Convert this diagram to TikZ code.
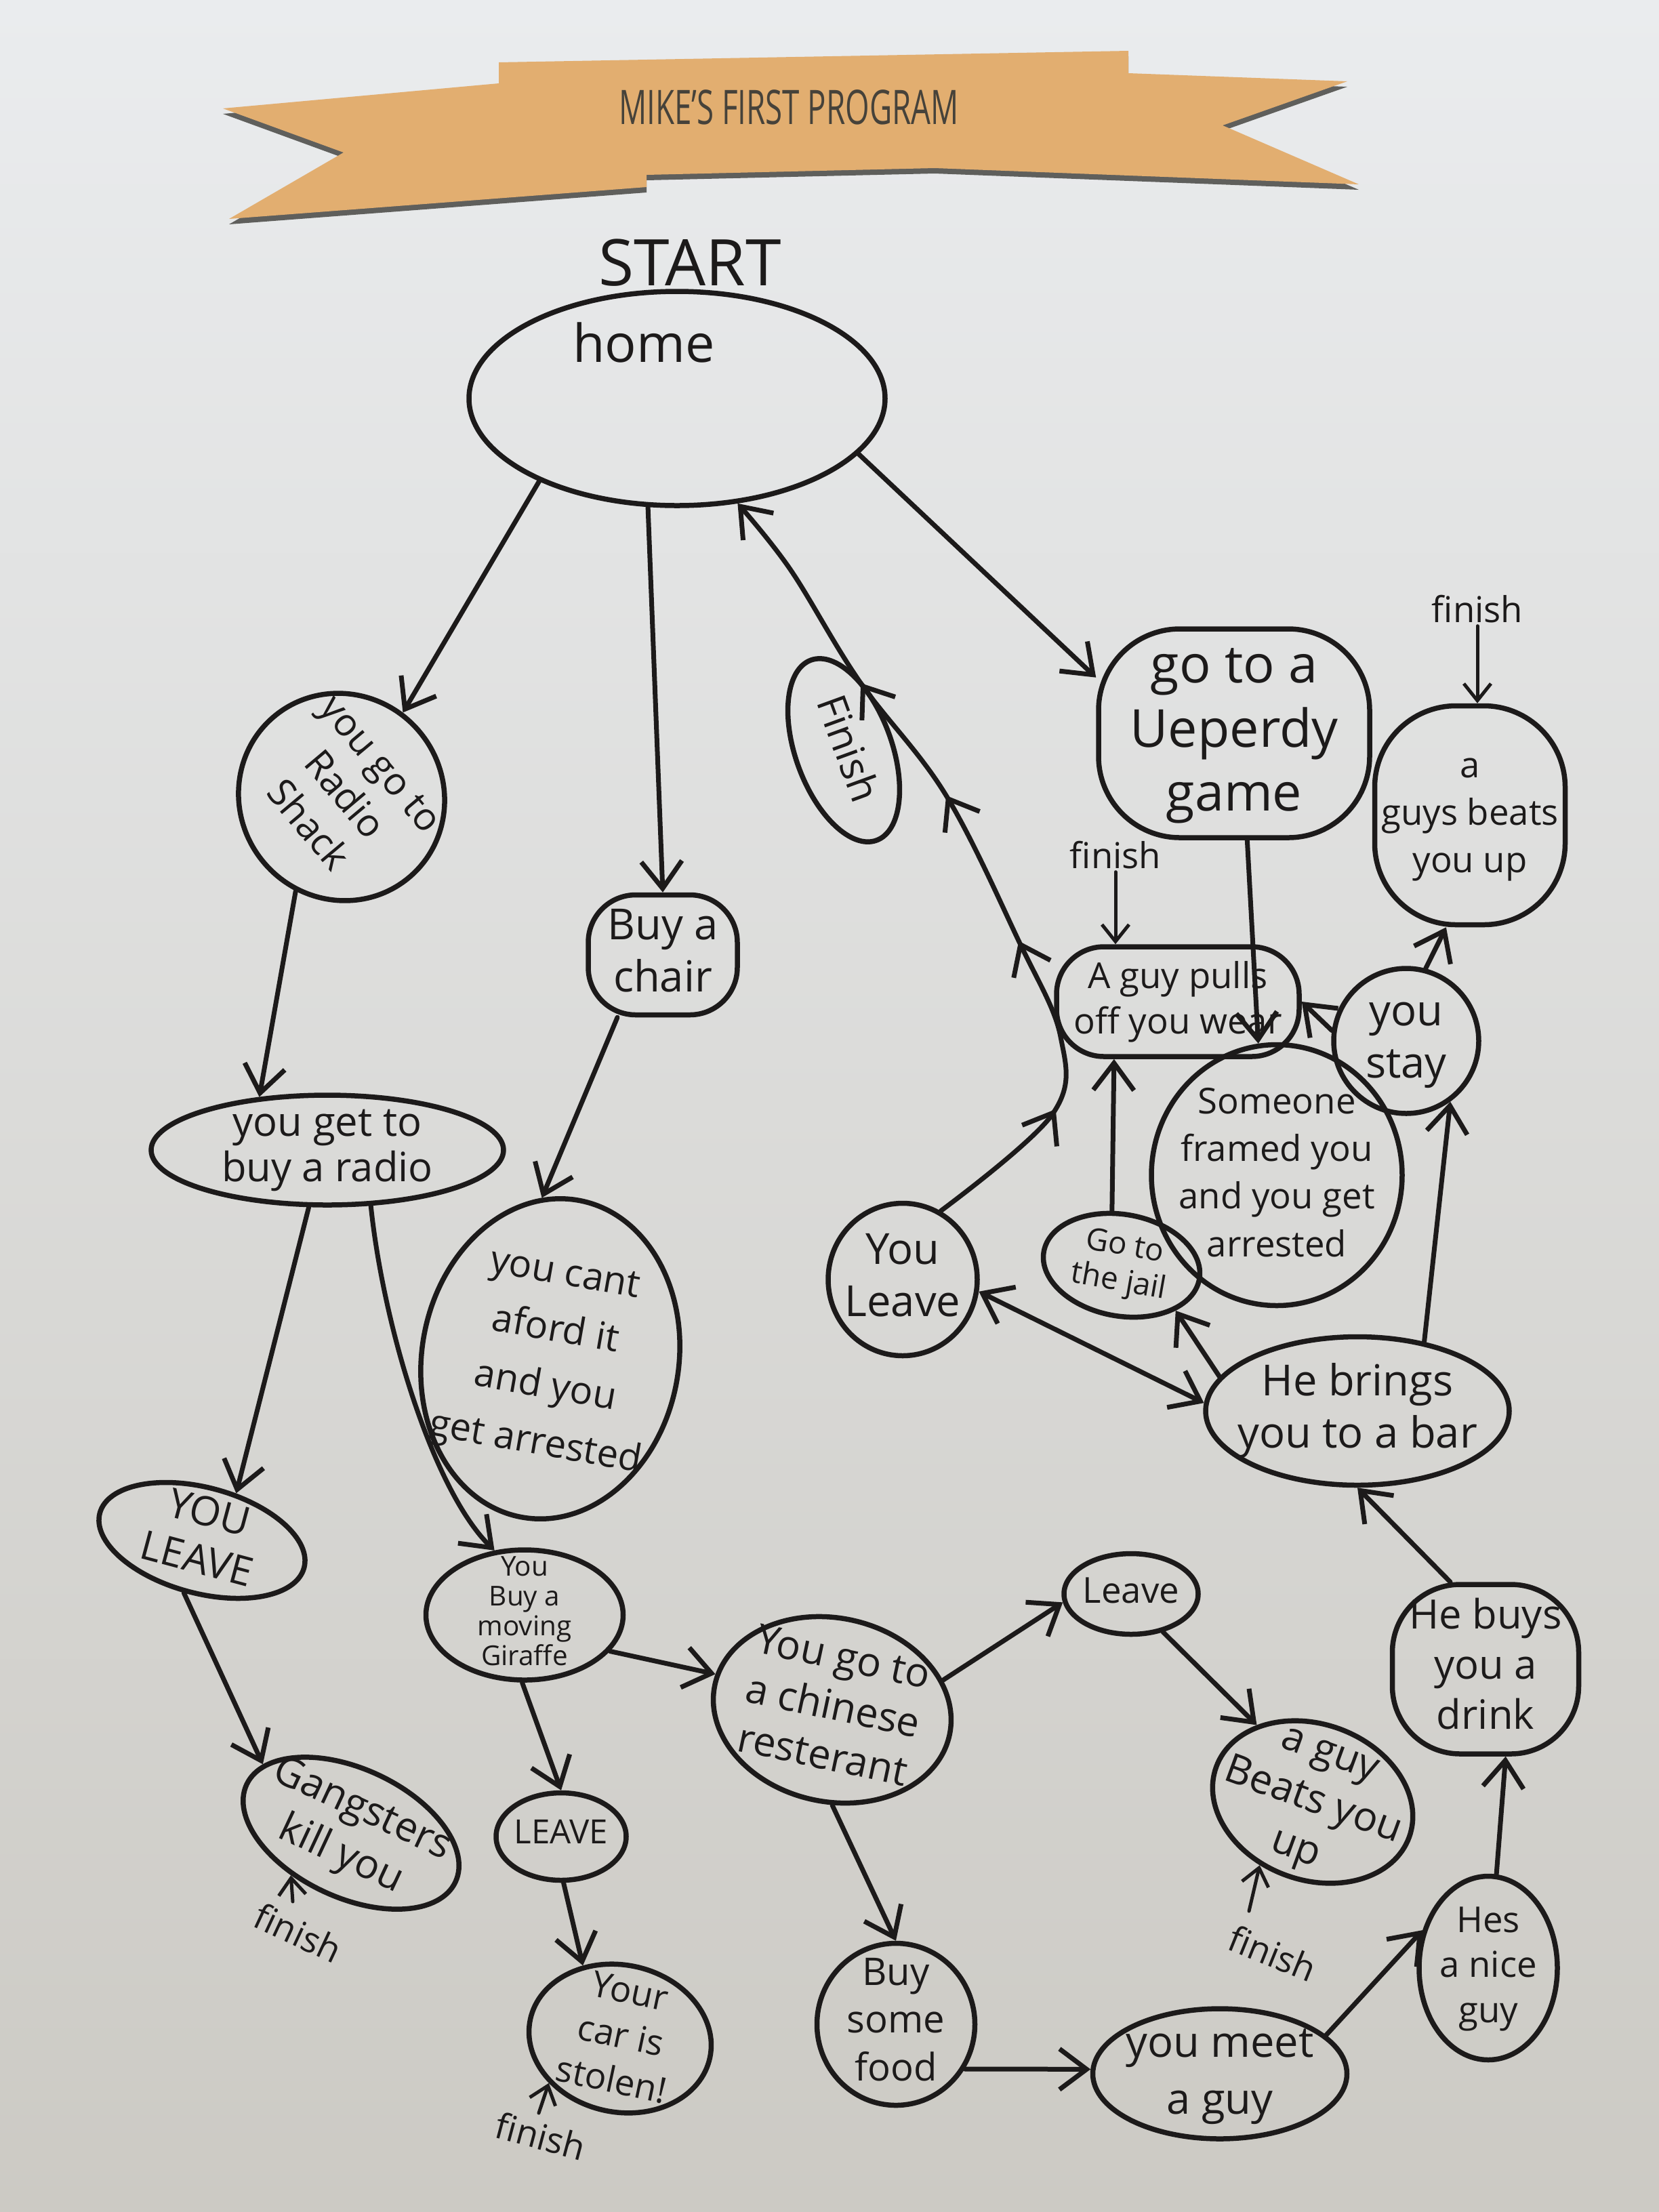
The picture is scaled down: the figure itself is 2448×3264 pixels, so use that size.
\documentclass[tikz,border=0pt]{standalone}
\usepackage{fontspec}
\setmainfont{Open Sans}
\usepackage{graphicx}
\usetikzlibrary{shapes.geometric,arrows.meta,decorations.markings}
\definecolor{ink}{RGB}{28,26,26}
\definecolor{paperTop}{RGB}{234,236,238}
\definecolor{paperBot}{RGB}{204,202,196}
\definecolor{ribbon}{RGB}{226,174,112}
\definecolor{ribbonShadow}{RGB}{95,95,92}
\definecolor{titleInk}{RGB}{70,66,58}
\newcommand{\fs}[2]{\fontsize{#1}{#2}\selectfont}
\newcommand{\ntx}[1]{\smash{\makebox[0pt]{\raisebox{-0.25em}{\begin{tabular}{@{}c@{}}#1\end{tabular}}}}}
\begin{document}
\begin{tikzpicture}[x=0.1mm,y=-0.1mm,
  bub/.style={draw=ink, line width=0.75mm, ellipse, inner sep=0pt, text=ink},
  rbox/.style={draw=ink, line width=0.75mm, rectangle, rounded corners=#1, inner sep=0pt, text=ink},
  rbox/.default=8mm,
  fin/.style={font=\fs{15}{18}, text=ink, inner sep=1pt},
  arr/.style={draw=ink, line width=0.7mm, line cap=round, line join=round, -{Straight Barb[length=4mm,width=6mm]}},
  darr/.style={draw=ink, line width=0.7mm, line cap=round, line join=round, {Straight Barb[length=4mm,width=6mm]}-{Straight Barb[length=4mm,width=6mm]}},
  farr/.style={draw=ink, line width=0.5mm, line cap=round, -{Straight Barb[length=2.5mm,width=4mm]}},
  midarr/.style={postaction={decorate}, decoration={markings,
    mark=at position 0.18 with {\arrow{Straight Barb[length=4mm,width=6mm]}},
    mark=at position 0.39 with {\arrow{Straight Barb[length=4mm,width=6mm]}},
    mark=at position 0.58 with {\arrow{Straight Barb[length=4mm,width=6mm]}},
    mark=at position 0.745 with {\arrow{Straight Barb[length=4mm,width=6mm]}}}}
]
% background
\useasboundingbox (0,0) rectangle (2448,3264);
\shade[top color=paperTop, bottom color=paperBot] (0,0) rectangle (2448,3264);

% ribbon banner
\fill[ribbonShadow, shift={(0,8)}] (329,160) -- (736,123) -- (736,92) -- (1665,75) -- (1665,108) -- (1988,120) -- (1804,185) -- (2005,272) -- (1379,248) -- (954,258) -- (954,276) -- (338,323) -- (507,225) -- cycle;
\fill[ribbon] (329,160) -- (736,123) -- (736,92) -- (1665,75) -- (1665,108) -- (1988,120) -- (1804,185) -- (2005,272) -- (1379,248) -- (954,258) -- (954,276) -- (338,323) -- (507,225) -- cycle;
\node[font=\fs{20}{24}, text=titleInk] (title) at (1164,158) {\scalebox{0.65}[1]{MIKE'S FIRST PROGRAM}};

% nodes
\node[font=\fs{27}{30}, text=ink] (start) at (1018,388) {START};
\node[bub, minimum width=61.4mm, minimum height=31.6mm] (home) at (999,588) {};
\node[font=\fs{22}{26}, text=ink] (hometxt) at (950,505) {home};

\node[bub, rotate=-50, minimum width=31mm, minimum height=30mm, font=\fs{16}{20}] (radio) at (504,1176) {\ntx{you go to\\Radio\\Shack}};
\node[rbox=7mm, minimum width=22mm, minimum height=17.7mm, font=\fs{18}{22}] (chair) at (978,1409) {\ntx{Buy a\\chair}};
\node[bub, rotate=-70, minimum width=28.3mm, minimum height=14.2mm, font=\fs{17}{20}] (fincap) at (1245,1107) {\ntx{Finish}};
\node[rbox=12mm, minimum width=40mm, minimum height=30.8mm, font=\fs{22}{27}] (game) at (1821,1082) {\ntx{go to a\\Ueperdy\\game}};
\node[rbox=12mm, minimum width=28.1mm, minimum height=32.3mm, font=\fs{15}{20}] (beats1) at (2169,1203) {\ntx{a\\guys beats\\you up}};
\node[fin] (fin1) at (2180,899) {finish};
\node[fin] (fin2) at (1646,1262) {finish};
\node[rbox=7mm, minimum width=35.8mm, minimum height=16.2mm, font=\fs{15}{19}] (pulls) at (1738,1478) {\ntx{A guy pulls\\off you wear}};
\node[bub, minimum width=21.4mm, minimum height=21.4mm, font=\fs{18}{22}] (stay) at (2075,1536) {\ntx{you\\stay}};
\node[bub, minimum width=37mm, minimum height=38.5mm, font=\fs{15}{20}] (framed) at (1884,1734) {\ntx{Someone\\framed you\\and you get\\arrested}};
\node[bub, rotate=-10, minimum width=23.3mm, minimum height=15mm, font=\fs{13}{15}] (jail) at (1655,1867) {\ntx{Go to\\the jail}};
\node[bub, minimum width=22mm, minimum height=22.5mm, font=\fs{18}{22}] (leaveR) at (1332,1888) {\ntx{You\\Leave}};
\node[bub, minimum width=44.8mm, minimum height=21.9mm, font=\fs{18}{22}] (bar) at (2003,2082) {\ntx{He brings\\you to a bar}};

\node[bub, minimum width=52mm, minimum height=16.2mm, font=\fs{17}{19}] (buyradio) at (483,1697) {\ntx{you get to\\buy a radio}};
\node[bub, rotate=-10, minimum width=37.9mm, minimum height=47.5mm, font=\fs{16}{24}] (cant) at (812,2005) {\ntx{you cant\\aford it\\and you\\get arrested}};
\node[bub, rotate=-15, minimum width=31.2mm, minimum height=15.6mm, font=\fs{17}{20}] (leaveL) at (298,2273) {\ntx{YOU\\LEAVE}};
\node[bub, minimum width=29.1mm, minimum height=19.2mm, font=\fs{11.5}{12.5}] (giraffe) at (774,2383) {\ntx{You\\Buy a\\moving\\Giraffe}};
\node[bub, rotate=-25, minimum width=34mm, minimum height=19mm, font=\fs{17}{21}] (gang) at (518,2705) {\ntx{Gangsters\\kill you}};
\node[bub, minimum width=19.2mm, minimum height=12.9mm, font=\fs{14}{16}] (leaveM) at (828,2710) {\ntx{LEAVE}};
\node[bub, rotate=-12, minimum width=27.1mm, minimum height=21.7mm, font=\fs{15}{19}] (car) at (915,3008) {\ntx{Your\\car is\\stolen!}};
\node[bub, rotate=-12, minimum width=35.4mm, minimum height=27.1mm, font=\fs{17}{21}] (chinese) at (1228,2523) {\ntx{You go to\\a chinese\\resterant}};
\node[bub, minimum width=19.8mm, minimum height=11.9mm, font=\fs{15}{18}] (leaveS) at (1669,2352) {\ntx{Leave}};
\node[bub, rotate=-20, minimum width=30.3mm, minimum height=23mm, font=\fs{17}{21}] (beats2) at (1937,2659) {\ntx{a guy\\Beats you\\up}};
\node[rbox=10mm, minimum width=27.5mm, minimum height=25mm, font=\fs{17}{21}] (drink) at (2192,2463) {\ntx{He buys\\you a\\drink}};
\node[bub, minimum width=20.4mm, minimum height=27.1mm, font=\fs{15}{19}] (nice) at (2196,2904) {\ntx{Hes\\a nice\\guy}};
\node[bub, minimum width=23.3mm, minimum height=23.9mm, font=\fs{16}{20}] (food) at (1322,2987) {\ntx{Buy\\some\\food}};
\node[bub, minimum width=37.5mm, minimum height=19.2mm, font=\fs{18}{24}] (meet) at (1800,3060) {\ntx{you meet\\a guy}};

\node[fin, rotate=-25] (fin3) at (440,2852) {finish};
\node[fin, rotate=-15] (fin4) at (798,3152) {finish};
\node[fin, rotate=-22] (fin5) at (1878,2882) {finish};
\coordinate (f3t) at (432,2806);
\coordinate (f4t) at (795,3118);
\coordinate (f5t) at (1843,2820);

% connectors
\draw[arr] (home.211) -- (radio.104);
\draw[arr] (home.255) -- (chair.north);
\draw[arr] (home.-17) -- (game.158);
\draw[arr] (radio.294) -- (buyradio.142);
\draw[arr] (chair.234) -- (cant.103);
\draw[arr] (buyradio.252) -- (leaveL.69);
\draw[arr] (buyradio.308) .. controls (566,1960) and (640,2200) .. (giraffe.115);
\draw[arr] (leaveL.266) -- (gang.167);
\draw[arr] (giraffe.268) -- (leaveM.90);
\draw[arr] (leaveM.273) -- (car.129);
\draw[arr] (giraffe.337) -- (chinese.175);
\draw[arr] (chinese.27) -- (leaveS.187);
\draw[arr] (chinese.282) -- (food.90);
\draw[arr] (leaveS.310) -- (beats2.146);
\draw[arr] (food.327) -- (meet.178);
\draw[arr] (meet.20) -- (nice.150);
\draw[arr] (nice.85) -- (drink.283);
\draw[arr] (drink.112) -- (bar.270);
\draw[arr] (bar.46) -- (stay.306);
\draw[arr] (stay.75) -- (beats1.258);
\draw[arr] (bar.166) -- (jail.330);
\draw[darr] (leaveR.351) -- (bar.177);
\draw[arr] (jail.110) -- (pulls.222);
\draw[arr] (stay.172) -- (pulls.0);
\draw[arr] (game.277) -- (framed.98);
\draw[arr, midarr] plot[smooth, tension=0.6] coordinates {(leaveR.61) (1553,1644) (1565,1530) (1503,1388) (1395,1172) (1268,1005) (1166,840) (home.300)};

% finish pointers
\draw[farr] (fin1.south) -- (beats1.north -| fin1.south);
\draw[farr] (fin2.south) -- (pulls.north -| fin2.south);
\draw[farr] (f3t) -- (gang.240);
\draw[farr] (f4t) -- (car.224);
\draw[farr] (f5t) -- (beats2.250);
\end{tikzpicture}
\end{document}
